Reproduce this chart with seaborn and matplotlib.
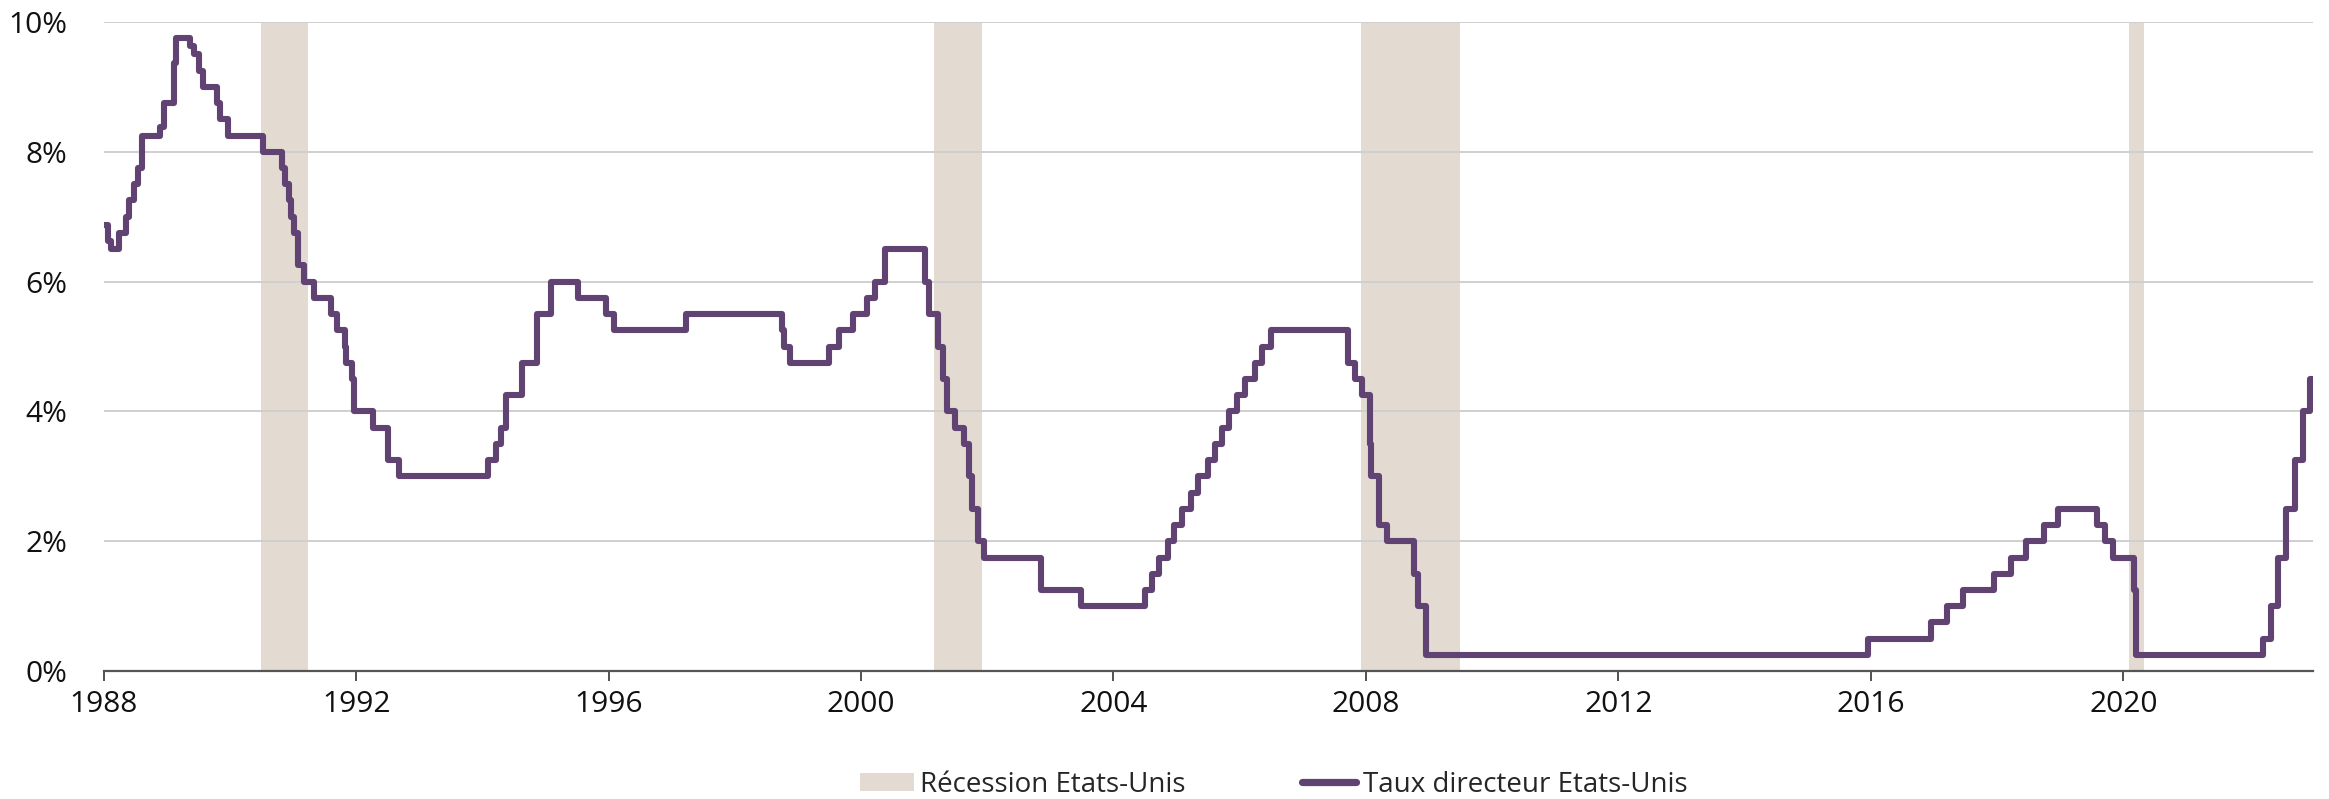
import matplotlib
matplotlib.use("Agg")
import matplotlib.pyplot as plt
import matplotlib.dates as mdates
from matplotlib.patches import Patch
from matplotlib.lines import Line2D
from matplotlib.ticker import FuncFormatter
import pandas as pd
import seaborn as sns

# US policy rate (target / upper bound), effective dates of each change
rate_dates = [
    "1988-01-01", "1988-01-28", "1988-02-11", "1988-03-30", "1988-05-09", "1988-05-25",
    "1988-06-22", "1988-07-19", "1988-08-09", "1988-10-20", "1988-11-22", "1988-12-15",
    "1988-12-29", "1989-02-09", "1989-02-14", "1989-02-24", "1989-05-17", "1989-06-06",
    "1989-07-07", "1989-07-27", "1989-10-18", "1989-11-06", "1989-12-20", "1990-07-13",
    "1990-10-29", "1990-11-14", "1990-12-07", "1990-12-18", "1991-01-09", "1991-02-01",
    "1991-03-08", "1991-04-30", "1991-08-06", "1991-09-13", "1991-10-31", "1991-11-06",
    "1991-12-06", "1991-12-20", "1992-04-09", "1992-07-02", "1992-09-04", "1994-02-04",
    "1994-03-22", "1994-04-18", "1994-05-17", "1994-08-16", "1994-11-15", "1995-02-01",
    "1995-07-06", "1995-12-19", "1996-01-31", "1997-03-25", "1998-09-29", "1998-10-15",
    "1998-11-17", "1999-06-30", "1999-08-24", "1999-11-16", "2000-02-02", "2000-03-21",
    "2000-05-16", "2001-01-03", "2001-01-31", "2001-03-20", "2001-04-18", "2001-05-15",
    "2001-06-27", "2001-08-21", "2001-09-17", "2001-10-02", "2001-11-06", "2001-12-11",
    "2002-11-06", "2003-06-25", "2004-06-30", "2004-08-10", "2004-09-21", "2004-11-10",
    "2004-12-14", "2005-02-02", "2005-03-22", "2005-05-03", "2005-06-30", "2005-08-09",
    "2005-09-20", "2005-11-01", "2005-12-13", "2006-01-31", "2006-03-28", "2006-05-10",
    "2006-06-29", "2007-09-18", "2007-10-31", "2007-12-11", "2008-01-22", "2008-01-30",
    "2008-03-18", "2008-04-30", "2008-10-08", "2008-10-29", "2008-12-16", "2015-12-17",
    "2016-12-15", "2017-03-16", "2017-06-15", "2017-12-14", "2018-03-22", "2018-06-14",
    "2018-09-27", "2018-12-20", "2019-08-01", "2019-09-19", "2019-10-31", "2020-03-04",
    "2020-03-16", "2022-03-17", "2022-05-05", "2022-06-16", "2022-07-28", "2022-09-22",
    "2022-11-03", "2022-12-15", "2022-12-31",
]
rate_values = [
    6.875, 6.625, 6.5, 6.75, 7.0, 7.25,
    7.5, 7.75, 8.25, 8.25, 8.375, 8.75,
    8.75, 9.0, 9.375, 9.75, 9.625, 9.5,
    9.25, 9.0, 8.75, 8.5, 8.25, 8.0,
    7.75, 7.5, 7.25, 7.0, 6.75, 6.25,
    6.0, 5.75, 5.5, 5.25, 5.0, 4.75,
    4.5, 4.0, 3.75, 3.25, 3.0, 3.25,
    3.5, 3.75, 4.25, 4.75, 5.5, 6.0,
    5.75, 5.5, 5.25, 5.5, 5.25, 5.0,
    4.75, 5.0, 5.25, 5.5, 5.75, 6.0,
    6.5, 6.0, 5.5, 5.0, 4.5, 4.0,
    3.75, 3.5, 3.0, 2.5, 2.0, 1.75,
    1.25, 1.0, 1.25, 1.5, 1.75, 2.0,
    2.25, 2.5, 2.75, 3.0, 3.25, 3.5,
    3.75, 4.0, 4.25, 4.5, 4.75, 5.0,
    5.25, 4.75, 4.5, 4.25, 3.5, 3.0,
    2.25, 2.0, 1.5, 1.0, 0.25, 0.5,
    0.75, 1.0, 1.25, 1.5, 1.75, 2.0,
    2.25, 2.5, 2.25, 2.0, 1.75, 1.25,
    0.25, 0.5, 1.0, 1.75, 2.5, 3.25,
    4.0, 4.5, 4.5,
]

# US recessions (start, end)
recession_starts = ["1990-07-01", "2001-03-01", "2007-12-01", "2020-02-01"]
recession_ends = ["1991-03-31", "2001-11-30", "2009-06-30", "2020-04-30"]

y_ticks = [0, 2, 4, 6, 8, 10]
x_tick_years = [1988, 1992, 1996, 2000, 2004, 2008, 2012, 2016, 2020]

label_recession = "Récession Etats-Unis"
label_rate = "Taux directeur Etats-Unis"

LINE_COLOR = "#614373"
BAND_COLOR = "#e3dbd2"
GRID_COLOR = "#cfcfcf"
AXIS_COLOR = "#555555"

sns.set_theme(style="white")
plt.rcParams["font.family"] = ["Open Sans", "DejaVu Sans"]

df = pd.DataFrame({"date": pd.to_datetime(rate_dates), "rate": rate_values})

fig = plt.figure(figsize=(23.29, 7.99), dpi=100)
ax = fig.add_axes([0.0445, 0.160, 0.9485, 0.8125])

for s, e in zip(recession_starts, recession_ends):
    ax.axvspan(pd.Timestamp(s), pd.Timestamp(e), color=BAND_COLOR, lw=0, zorder=0.2)

sns.lineplot(data=df, x="date", y="rate", ax=ax, color=LINE_COLOR, lw=4.4,
             drawstyle="steps-post", solid_joinstyle="round", solid_capstyle="round",
             zorder=3)

ax.set_xlim(pd.Timestamp("1988-01-01"), pd.Timestamp("2023-01-01"))
ax.set_ylim(0, 10)
ax.set_yticks(y_ticks)
ax.yaxis.set_major_formatter(FuncFormatter(lambda v, p: f"{v:.0f}%"))
ax.set_xticks([pd.Timestamp(f"{y}-01-01") for y in x_tick_years])
ax.xaxis.set_major_formatter(mdates.DateFormatter("%Y"))
ax.set_xlabel("")
ax.set_ylabel("")

ax.set_axisbelow(True)
ax.grid(axis="y", color=GRID_COLOR, lw=1.4)
ax.grid(axis="x", visible=False)
for side in ["left", "right", "top"]:
    ax.spines[side].set_visible(False)
ax.spines["bottom"].set_color(AXIS_COLOR)
ax.spines["bottom"].set_linewidth(1.6)
ax.spines["bottom"].set_zorder(4)

ax.tick_params(axis="x", which="major", bottom=True, direction="out", length=7.5,
               width=1.2, color="#333333", labelsize=21.5, labelcolor="#111111", pad=6)
ax.tick_params(axis="y", left=False, labelsize=21.5, labelcolor="#111111", pad=20)

handles = [
    Patch(facecolor=BAND_COLOR, edgecolor="none", label=label_recession),
    Line2D([0], [0], color=LINE_COLOR, lw=5.2, solid_capstyle="round", label=label_rate),
]
fig.legend(handles=handles, loc="center", bbox_to_anchor=(0.5468, 0.018), ncol=2,
           frameon=False, fontsize=20, handlelength=1.95, handleheight=0.6,
           handletextpad=0.22, columnspacing=4.2, borderpad=0.2)

fig.savefig("out.png", dpi=100)
